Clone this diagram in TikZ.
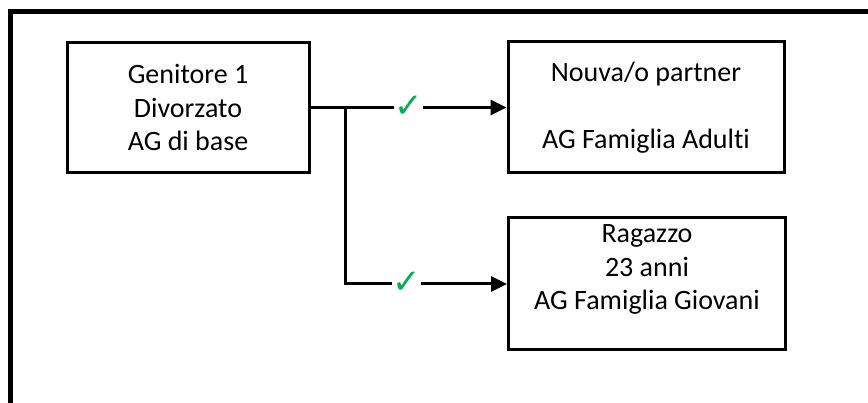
\documentclass[tikz,border=0pt]{standalone}
\usepackage{fontspec}
\setmainfont{Carlito}[Ligatures=NoCommon]
\newfontfamily\symfont{DejaVu Sans}
\usetikzlibrary{arrows.meta}
\definecolor{checkgreen}{RGB}{0,176,80}
\tikzset{
  box/.style={draw=black, line width=3pt, align=center, inner sep=0pt,
    font=\fontsize{28}{33.5}\selectfont},
  conn/.style={draw=black, line width=3pt, -{Triangle[length=16pt,width=15pt]}},
  check/.style={fill=white, text=checkgreen, inner sep=0.5pt,
    font=\symfont\fontsize{34}{34}\selectfont},
  frame/.style={draw=black, line width=5pt}
}
\begin{document}
\begin{tikzpicture}[x=1pt,y=-1pt]
\useasboundingbox (0,0) rectangle (868,403);
\draw[frame] (10,420) -- (10,11.5) -- (880,11.5);
\node[box, minimum width=242pt, minimum height=130pt] (b1) at (188,107.5)
  {Genitore 1\\Divorzato\\AG di base};
\node[box, minimum width=276pt, minimum height=131pt] (b2) at (646,107.5)
  {Nouva/o partner\\~\\AG Famiglia Adulti};
\node[box, minimum width=277pt, minimum height=132pt] (b3) at (647,284)
  {Ragazzo\\23 anni\\AG Famiglia Giovani\\~};
\coordinate (j) at (345,107.5);
\draw[conn] (b1.east) -- node[check, yshift=1pt]{✓} (b2.west);
\draw[conn] (j) |- node[check, pos=0.69, yshift=1pt]{✓} (b3.west);
\end{tikzpicture}
\end{document}
